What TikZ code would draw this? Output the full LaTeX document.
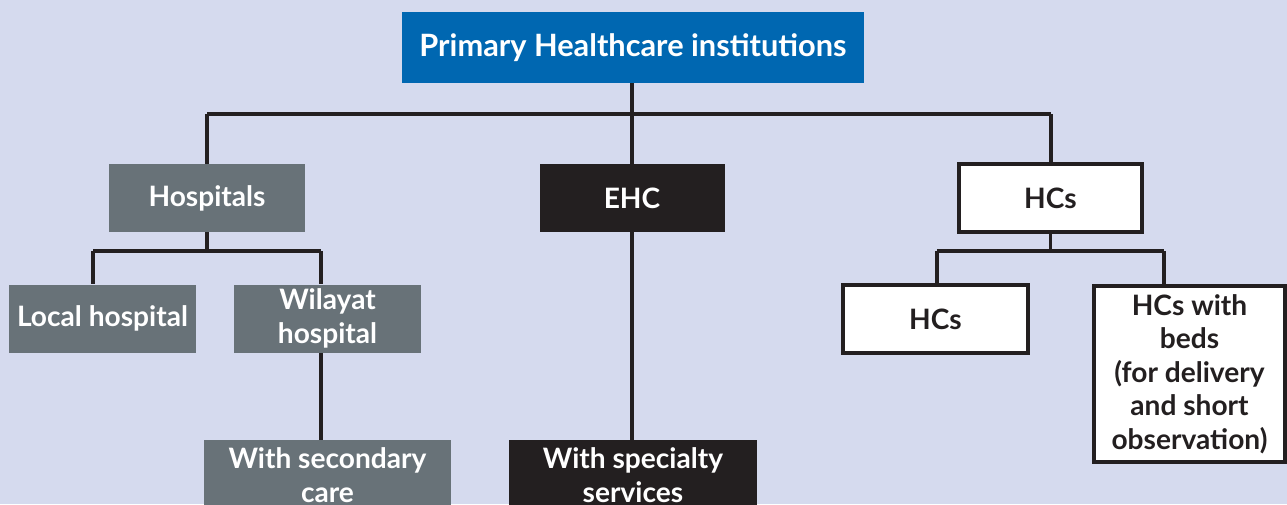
\documentclass[tikz,border=0pt]{standalone}
\usepackage{fontspec}
\setmainfont{Lato}
\usetikzlibrary{positioning}
\definecolor{bgblue}{HTML}{D5DAEE}
\definecolor{topblue}{HTML}{0067B1}
\definecolor{slate}{HTML}{687278}
\definecolor{ink}{HTML}{231F20}
\newcommand{\px}{0.2mm}
\tikzset{
  box/.style={inner sep=0pt, align=center, minimum height=68*\px,
    font=\bfseries\fontsize{16}{19}\selectfont},
  greybox/.style={box, fill=slate, text=white},
  darkbox/.style={box, fill=ink, text=white},
  whitebox/.style={box, fill=white, draw=ink, line width=2.2pt, text=ink},
  link/.style={draw=ink, line width=1.9pt},
}

\begin{document}
\begin{tikzpicture}[x=\px, y=-\px]
    \useasboundingbox (0,0) rectangle (1287,504);
    \fill[bgblue] (0,0) rectangle (1287,504);
    \clip (0,0) rectangle (1287,504);
    % define boxes
    % root
    \node[box, fill=topblue, text=white, minimum width=462*\px, minimum height=71*\px,
          font=\bfseries\fontsize{17.5}{21}\selectfont] (root) at (633,47.5)
          {Primary Healthcare institutions};
    % first level
    \node[greybox, minimum width=196*\px] (hosp) at (207,198) {Hospitals};
    \node[darkbox, minimum width=185*\px] (ehc) at (632,198) {EHC};
    \node[whitebox, minimum width=183*\px] (hcs) at (1050.5,198) {HCs};
    % hospitals
    \node[greybox, minimum width=187*\px] (local) at (102.5,318.5) {Local hospital};
    \node[greybox, minimum width=187*\px] (wilayat) at (327.5,318.5) {Wilayat\\hospital};
    \node[greybox, minimum width=247*\px, minimum height=70*\px, anchor=north]
          (secondary) at (327.5,440) {With secondary\\care};
    % ehc
    \node[darkbox, minimum width=248*\px, minimum height=70*\px, anchor=north]
          (specialty) at (633,440) {With specialty\\services};
    % health centres
    \node[whitebox, minimum width=185*\px] (hcs_plain) at (935.5,319) {HCs};
    \node[whitebox, minimum width=191*\px, minimum height=176*\px] (hcs_beds) at (1189.5,374)
          {HCs with\\beds\\(for delivery\\and short\\observation)};
    % bus bends
    \coordinate (top_l) at (207,114);
    \coordinate (top_r) at (1051,114);
    \coordinate (hosp_l) at (93,251);
    \coordinate (hosp_r) at (321,251);
    \coordinate (hcs_l) at (937,251);
    \coordinate (hcs_r) at (1164,251);
    % draw tree
    \draw[link] (root.south -| ehc) -- (ehc.north);
    \draw[link] (top_l) -- (top_r);
    \draw[link] (top_l) -- (top_l |- hosp.north);
    \draw[link] (top_r) -- (top_r |- hcs.north);
    \draw[link] (ehc.south) -- (ehc.south |- specialty.north);
    \draw[link] (hosp.south) -- (hosp.south |- hosp_l);
    \draw[link] (hosp_l) -- (hosp_r);
    \draw[link] (hosp_l) -- (hosp_l |- local.north);
    \draw[link] (hosp_r) -- (hosp_r |- wilayat.north);
    \draw[link] (wilayat.south -| hosp_r) -- (secondary.north -| hosp_r);
    \draw[link] (hcs.south) -- (hcs.south |- hcs_l);
    \draw[link] (hcs_l) -- (hcs_r);
    \draw[link] (hcs_l) -- (hcs_l |- hcs_plain.north);
    \draw[link] (hcs_r) -- (hcs_r |- hcs_beds.north);
\end{tikzpicture}
\end{document}
